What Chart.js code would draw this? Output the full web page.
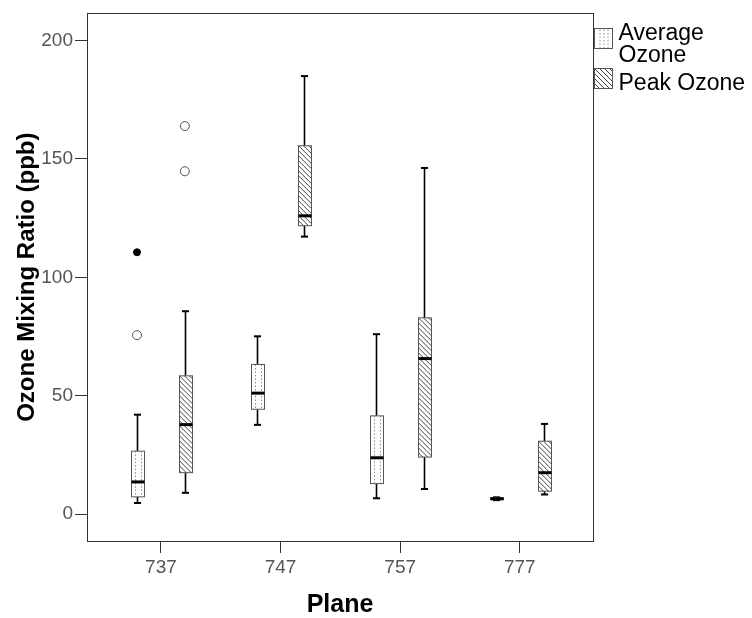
<!DOCTYPE html>
<html><head><meta charset="utf-8">
<script src="https://cdn.jsdelivr.net/npm/chart.js@4.4.0/dist/chart.umd.min.js"></script>
<style>html,body{margin:0;padding:0;background:#fff;}#wrap{width:752px;height:618px;position:relative;}</style>
</head><body><div id="wrap"><canvas id="c"></canvas></div>
<script>
// ---- data ----
const planes = ['737', '747', '757', '777'];
const seriesNames = ['Average Ozone', 'Peak Ozone'];
const avgMin    = [4.7, 37.7, 6.7, 5.9];
const avgQ1     = [7.3, 44.3, 12.9, 6.1];
const avgMedian = [13.6, 51.1, 23.8, 6.5];
const avgQ3     = [26.6, 63.2, 41.5, 6.9];
const avgMax    = [42.0, 75.1, 76.0, 7.1];
const avgOutliers = [[75.6], [], [], []];
const avgExtremes = [[110.6], [], [], []];
const peakMin    = [9.0, 117.2, 10.6, 8.3];
const peakQ1     = [17.5, 121.8, 24.1, 9.7];
const peakMedian = [37.8, 126.0, 65.7, 17.5];
const peakQ3     = [58.4, 155.6, 82.9, 30.8];
const peakMax    = [85.7, 185.0, 146.2, 38.1];
const peakOutliers = [[144.8, 163.9], [], [], []];
const peakExtremes = [[], [], [], []];
const yTicks = [0, 50, 100, 150, 200];

// ---- style ----
const FONT = '"Liberation Sans", Arial, Helvetica, sans-serif';
const GROUP_OFFSET = 0.2;
const BOX_W = 0.108;

const series = [
  {min: avgMin, q1: avgQ1, med: avgMedian, q3: avgQ3, max: avgMax, off: -GROUP_OFFSET, fill: 'dots'},
  {min: peakMin, q1: peakQ1, med: peakMedian, q3: peakQ3, max: peakMax, off: GROUP_OFFSET, fill: 'hatch'}
];

function pts(list, off) {
  const out = [];
  list.forEach((vals, i) => vals.forEach(v => out.push({x: i + off, y: v})));
  return out;
}

function line(ctx, x1, y1, x2, y2) { ctx.beginPath(); ctx.moveTo(x1, y1); ctx.lineTo(x2, y2); ctx.stroke(); }

function fillDots(ctx, x, y, w, h) {
  ctx.save();
  ctx.beginPath(); ctx.rect(x, y, w, h); ctx.clip();
  ctx.strokeStyle = '#8a8a8a'; ctx.lineWidth = 1; ctx.setLineDash([1.5, 2]);
  [0.3, 0.72].forEach(f => { const lx = Math.round(x + w * f) + 0.5; line(ctx, lx, y, lx, y + h); });
  ctx.restore();
}
function fillHatch(ctx, x, y, w, h) {
  ctx.save();
  ctx.beginPath(); ctx.rect(x, y, w, h); ctx.clip();
  ctx.strokeStyle = '#444'; ctx.lineWidth = 1;
  for (let k = -w - 2; k < h + 2; k += 5) line(ctx, x, y + k, x + w, y + k + w);
  ctx.restore();
}

const boxPlugin = {
  id: 'boxes',
  beforeDatasetsDraw(chart) {
    const ctx = chart.ctx, xs = chart.scales.x, ys = chart.scales.y;
    ctx.save();
    series.forEach(s => {
      planes.forEach((p, i) => {
        const cx = Math.round(xs.getPixelForValue(i + s.off)) + 0.5;
        const half = xs.getPixelForValue(i + s.off + BOX_W / 2) - xs.getPixelForValue(i + s.off);
        const left = Math.round(cx - half) + 0.5, right = Math.round(cx + half) + 0.5;
        const yMin = ys.getPixelForValue(s.min[i]), yQ1 = ys.getPixelForValue(s.q1[i]);
        const yMed = ys.getPixelForValue(s.med[i]), yQ3 = ys.getPixelForValue(s.q3[i]);
        const yMax = ys.getPixelForValue(s.max[i]);
        const capHalf = half * 0.55;
        ctx.strokeStyle = '#000'; ctx.lineWidth = 1.6;
        line(ctx, cx, yQ3, cx, yMax); line(ctx, cx, yQ1, cx, yMin);
        ctx.lineWidth = 2;
        line(ctx, cx - capHalf, yMax, cx + capHalf, yMax);
        line(ctx, cx - capHalf, yMin, cx + capHalf, yMin);
        ctx.fillStyle = '#fff';
        ctx.fillRect(left, yQ3, right - left, yQ1 - yQ3);
        if (s.fill === 'dots') fillDots(ctx, left, yQ3, right - left, yQ1 - yQ3);
        else fillHatch(ctx, left, yQ3, right - left, yQ1 - yQ3);
        ctx.strokeStyle = '#555'; ctx.lineWidth = 1;
        ctx.strokeRect(left, yQ3, right - left, yQ1 - yQ3);
        ctx.strokeStyle = '#000'; ctx.lineWidth = 3;
        line(ctx, left, yMed, right, yMed);
      });
    });
    ctx.restore();
  },
  afterDraw(chart) {
    const ctx = chart.ctx, a = chart.chartArea;
    ctx.save();
    // frame
    ctx.strokeStyle = '#333'; ctx.lineWidth = 1;
    ctx.strokeRect(Math.round(a.left) + 0.5, Math.round(a.top) + 0.5, Math.round(a.right - a.left), Math.round(a.bottom - a.top));
    // legend
    const lx = Math.round(a.right) + 1.5;
    const icons = [{y: 28.5, fill: 'dots', lines: ['Average', 'Ozone'], base: 39.5}, {y: 68.5, fill: 'hatch', lines: ['Peak Ozone'], base: 89.5}];
    icons.forEach(ic => {
      ctx.fillStyle = '#fff'; ctx.fillRect(lx, ic.y, 18, 20);
      if (ic.fill === 'dots') {
        ctx.save(); ctx.strokeStyle = '#8a8a8a'; ctx.lineWidth = 1; ctx.setLineDash([1.5, 2]);
        [5, 9, 13].forEach(d => line(ctx, lx + d + 0.5, ic.y + 1, lx + d + 0.5, ic.y + 20));
        ctx.restore();
      } else fillHatch(ctx, lx, ic.y, 18, 20);
      ctx.strokeStyle = '#555'; ctx.lineWidth = 1; ctx.strokeRect(lx, ic.y, 18, 20);
      ctx.fillStyle = '#000'; ctx.font = '23px ' + FONT; ctx.textBaseline = 'alphabetic'; ctx.textAlign = 'left';
      ic.lines.forEach((t, k) => ctx.fillText(t, lx + 24, ic.base + k * 22.5));
    });
    ctx.restore();
  }
};

new Chart(document.getElementById('c'), {
  type: 'scatter',
  data: {
    datasets: [
      {label: seriesNames[0] + ' outliers', data: pts(avgOutliers, -GROUP_OFFSET), pointRadius: 4.5, backgroundColor: '#fff', borderColor: '#555', borderWidth: 1},
      {label: seriesNames[0] + ' extremes', data: pts(avgExtremes, -GROUP_OFFSET), pointRadius: 3.5, backgroundColor: '#000', borderColor: '#000', borderWidth: 1},
      {label: seriesNames[1] + ' outliers', data: pts(peakOutliers, GROUP_OFFSET), pointRadius: 4.5, backgroundColor: '#fff', borderColor: '#555', borderWidth: 1},
      {label: seriesNames[1] + ' extremes', data: pts(peakExtremes, GROUP_OFFSET), pointRadius: 3.5, backgroundColor: '#000', borderColor: '#000', borderWidth: 1}
    ]
  },
  options: {
    responsive: true, maintainAspectRatio: false, animation: false,
    events: [],
    layout: {padding: {top: 11, right: 159, left: 0, bottom: 0}},
    plugins: {legend: {display: false}, tooltip: {enabled: false}},
    scales: {
      x: {
        type: 'linear', min: -0.618, max: 3.612,
        afterBuildTicks: s => { s.ticks = planes.map((p, i) => ({value: i})); },
        afterFit: s => { s.height = 77; },
        ticks: {callback: v => planes[v], color: '#555', font: {family: FONT, size: 19}, padding: 3, maxRotation: 0, autoSkip: false},
        grid: {drawOnChartArea: false, drawTicks: true, tickLength: 12, color: '#333', lineWidth: 1},
        border: {display: false},
        title: {display: true, text: 'Plane', color: '#000', font: {family: FONT, size: 25, weight: 'bold', lineHeight: 1}, padding: {top: 0, bottom: 0}}
      },
      y: {
        type: 'linear', min: -11.35, max: 211.48,
        afterBuildTicks: s => { s.ticks = yTicks.map(v => ({value: v})); },
        afterFit: s => { s.width = 87; },
        ticks: {color: '#555', font: {family: FONT, size: 19}, padding: 2},
        grid: {drawOnChartArea: false, drawTicks: true, tickLength: 12, color: '#333', lineWidth: 1},
        border: {display: false},
        title: {display: true, text: 'Ozone Mixing Ratio (ppb)', color: '#000', font: {family: FONT, size: 24, weight: 'bold', lineHeight: 1}, padding: {top: 15, bottom: 0}}
      }
    }
  },
  plugins: [boxPlugin]
});
</script></body></html>
